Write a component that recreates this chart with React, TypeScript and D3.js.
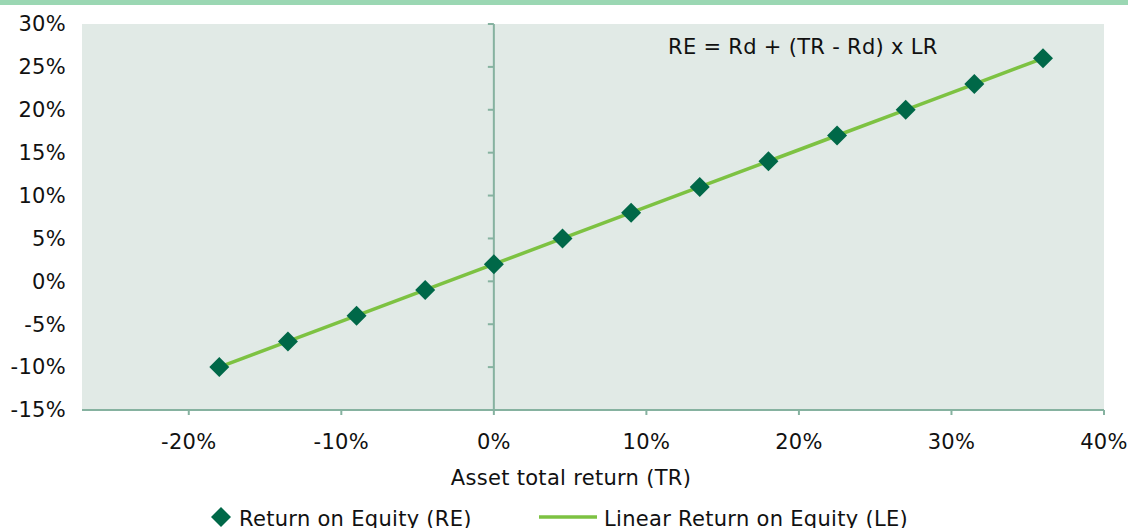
import React from "react";
import * as d3 from "d3";

const assetReturn = [-0.18, -0.135, -0.09, -0.045, 0, 0.045, 0.09, 0.135, 0.18, 0.225, 0.27, 0.315, 0.36];
const equityReturn = [-0.10, -0.07, -0.04, -0.01, 0.02, 0.05, 0.08, 0.11, 0.14, 0.17, 0.20, 0.23, 0.26];
const xTicks = [-0.2, -0.1, 0, 0.1, 0.2, 0.3, 0.4];
const yTicks = [-0.15, -0.1, -0.05, 0, 0.05, 0.1, 0.15, 0.2, 0.25, 0.3];
const seriesNames = ["Return on Equity (RE)", "Linear Return on Equity (LE)"];
const formulaText = "RE = Rd + (TR - Rd) x LR";
const xTitle = "Asset total return (TR)";

const W = 1128, H = 528;
const left = 82, right = 1104, top = 24, bottom = 410;
const FONT = "'DejaVu Sans', sans-serif";
const FS = 21;
const LS = 0.3;
const axisColor = "#86b2a0";

export default function App() {
  const x = d3.scaleLinear().domain([-0.27, 0.4]).range([left, right]);
  const y = d3.scaleLinear().domain([-0.15, 0.3]).range([bottom, top]);
  const pts = assetReturn.map((a, i) => [a, equityReturn[i]] as [number, number]);
  const line = d3.line<[number, number]>().x(d => x(d[0])).y(d => y(d[1]));
  const fmt = (v: number) => d3.format(".0%")(v).replace("\u2212", "-");
  const diamond = (cx: number, cy: number, r: number) =>
    `M${cx},${cy - r}L${cx + r},${cy}L${cx},${cy + r}L${cx - r},${cy}Z`;
  const x0 = x(0);
  return (
    <svg width={W} height={H} style={{ position: "absolute", left: 0, top: 0 }} fontFamily={FONT} letterSpacing={LS}>
      <rect x={0} y={0} width={W} height={H} fill="#ffffff" />
      <rect x={0} y={0} width={W} height={5} fill="#9bd7b3" />
      <rect x={left} y={top} width={right - left} height={bottom - top} fill="#e1eae6" />
      {/* y axis at x=0 */}
      <line x1={x0} x2={x0} y1={top} y2={bottom} stroke={axisColor} strokeWidth={2} />
      {yTicks.map(t => (
        <line key={"yt" + t} x1={x0 - 6} x2={x0} y1={y(t)} y2={y(t)} stroke={axisColor} strokeWidth={2} />
      ))}
      {/* x axis at bottom */}
      <line x1={left} x2={right} y1={bottom} y2={bottom} stroke={axisColor} strokeWidth={2} />
      {xTicks.map(t => (
        <line key={"xt" + t} x1={x(t)} x2={x(t)} y1={bottom} y2={bottom + 5} stroke={axisColor} strokeWidth={2} />
      ))}
      {yTicks.map(t => (
        <text key={"yl" + t} x={66} y={y(t)} dy="0.35em" textAnchor="end" fontSize={FS} fill="#111">
          {fmt(t)}
        </text>
      ))}
      {xTicks.map(t => (
        <text key={"xl" + t} x={x(t)} y={442} dy="0.35em" textAnchor="middle" fontSize={FS} fill="#111">
          {fmt(t)}
        </text>
      ))}
      <text x={571} y={478} dy="0.35em" textAnchor="middle" fontSize={FS} fill="#111">{xTitle}</text>
      <text x={668} y={47} dy="0.35em" textAnchor="start" fontSize={FS} fill="#111">{formulaText}</text>
      <path d={line(pts) || ""} fill="none" stroke="#7dc242" strokeWidth={3.5} />
      {pts.map((p, i) => (
        <path key={"pt" + i} d={diamond(x(p[0]), y(p[1]), 10)} fill="#006848" />
      ))}
      {/* legend */}
      <path d={diamond(221, 517, 10)} fill="#006848" />
      <text x={239} y={519} dy="0.35em" fontSize={FS} fill="#111">{seriesNames[0]}</text>
      <line x1={539} x2={597} y1={517} y2={517} stroke="#7dc242" strokeWidth={3.5} />
      <text x={604} y={519} dy="0.35em" fontSize={FS} fill="#111">{seriesNames[1]}</text>
    </svg>
  );
}
